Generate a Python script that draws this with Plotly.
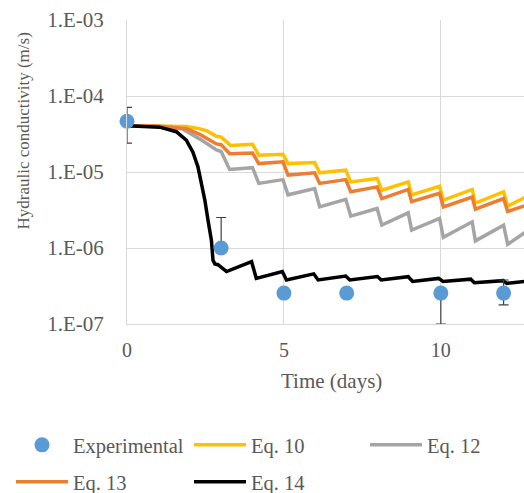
import plotly.graph_objects as go

# ---------------- data ----------------
exp_days = [0, 3, 5, 7, 10, 12]
exp_k = [4.65e-5, 1.0e-6, 2.55e-7, 2.55e-7, 2.55e-7, 2.55e-7]
exp_err_plus = [2.45e-5, 1.52e-6, 0, 0, 0, 1.24e-7]
exp_err_minus = [2.25e-5, 0, 0, 0, 1.55e-7, 0.76e-7]

eq10_days = [0, 1.0, 1.5, 1.9, 2.3, 2.55, 2.85, 3.0, 3.3, 4.0, 4.2, 4.97, 5.13, 5.98, 6.14,
             6.97, 7.13, 7.97, 8.12, 8.96, 9.07, 9.96, 10.08, 11.0, 11.1, 12.0, 12.13, 12.7]
eq10_k = [4.07e-5, 4.07e-5, 4.03e-5, 3.98e-5, 3.72e-5, 3.47e-5, 2.95e-5, 2.88e-5, 2.24e-5,
          2.32e-5, 1.66e-5, 1.71e-5, 1.29e-5, 1.33e-5, 9.77e-6, 1.06e-5, 7.41e-6, 8.22e-6,
          5.75e-6, 7.41e-6, 5.01e-6, 6.50e-6, 4.27e-6, 5.89e-6, 3.89e-6, 5.50e-6, 3.55e-6, 4.68e-6]

eq12_days = [0, 1.0, 1.75, 2.3, 2.85, 3.0, 3.27, 4.0, 4.2, 4.97, 5.13, 5.98, 6.14, 6.97, 7.13,
             7.97, 8.12, 8.96, 9.07, 9.96, 10.08, 11.0, 11.1, 12.0, 12.13, 12.7]
eq12_k = [4.07e-5, 3.98e-5, 3.72e-5, 2.75e-5, 1.95e-5, 1.86e-5, 1.08e-5, 1.14e-5, 7.08e-6,
          7.94e-6, 5.01e-6, 6.07e-6, 3.47e-6, 4.37e-6, 2.63e-6, 3.31e-6, 2.00e-6, 2.90e-6,
          1.72e-6, 2.45e-6, 1.38e-6, 2.21e-6, 1.24e-6, 2.00e-6, 1.12e-6, 1.62e-6]

eq13_days = [0, 1.0, 1.9, 2.3, 2.55, 2.85, 3.0, 3.27, 4.0, 4.2, 4.97, 5.13, 5.98, 6.14, 6.97,
             7.13, 7.97, 8.12, 8.96, 9.07, 9.96, 10.08, 11.0, 11.1, 12.0, 12.13, 12.7]
eq13_k = [4.07e-5, 4.03e-5, 3.72e-5, 3.16e-5, 2.75e-5, 2.34e-5, 2.29e-5, 1.74e-5, 1.78e-5,
          1.29e-5, 1.36e-5, 9.12e-6, 9.77e-6, 7.08e-6, 7.94e-6, 5.50e-6, 6.37e-6, 4.47e-6,
          5.89e-6, 4.07e-6, 5.25e-6, 3.47e-6, 4.68e-6, 3.24e-6, 4.47e-6, 3.02e-6, 3.63e-6]

eq14_days = [0, 1.04, 1.57, 1.89, 2.10, 2.26, 2.37, 2.48, 2.58, 2.69, 2.74, 2.8, 2.9, 3.17,
             3.97, 4.12, 4.95, 5.08, 5.95, 6.09, 6.97, 7.1, 7.98, 8.1, 8.96, 9.1, 9.93, 10.07,
             10.95, 11.07, 11.99, 12.1, 12.7]
eq14_k = [4.07e-5, 3.89e-5, 3.39e-5, 2.63e-5, 1.82e-5, 1.17e-5, 7.08e-6, 4.27e-6, 2.34e-6,
          1.26e-6, 6.92e-7, 6.17e-7, 6.03e-7, 4.90e-7, 6.61e-7, 3.98e-7, 4.90e-7, 3.80e-7,
          4.57e-7, 3.80e-7, 4.27e-7, 3.80e-7, 4.22e-7, 3.80e-7, 4.19e-7, 3.63e-7, 3.98e-7,
          3.63e-7, 3.89e-7, 3.49e-7, 3.72e-7, 3.43e-7, 3.63e-7]

y_tickvals = [1e-7, 1e-6, 1e-5, 1e-4, 1e-3]
y_ticktext = ["1.E-07", "1.E-06", "1.E-05", "1.E-04", "1.E-03"]
x_tickvals = [0, 5, 10]

# ---------------- figure ----------------
FONT = "Liberation Serif, Times New Roman, serif"
TXT = "#595959"
LW = 3.5

fig = go.Figure()
fig.add_trace(go.Scatter(x=eq10_days, y=eq10_k, mode="lines", name="Eq. 10",
                         line=dict(color="#FFC000", width=LW), legend="legend", legendrank=2))
fig.add_trace(go.Scatter(x=eq12_days, y=eq12_k, mode="lines", name="Eq. 12",
                         line=dict(color="#A5A5A5", width=LW), legend="legend3", legendrank=3))
fig.add_trace(go.Scatter(x=eq13_days, y=eq13_k, mode="lines", name="Eq. 13",
                         line=dict(color="#ED7D31", width=LW), legend="legend2", legendrank=4))
fig.add_trace(go.Scatter(x=eq14_days, y=eq14_k, mode="lines", name="Eq. 14",
                         line=dict(color="#000000", width=LW), legend="legend2", legendrank=5))
fig.add_trace(go.Scatter(
    x=exp_days, y=exp_k, mode="markers", name="Experimental",
    marker=dict(color="#5B9BD5", size=15),
    error_y=dict(type="data", array=exp_err_plus, arrayminus=exp_err_minus,
                 color="#404040", thickness=1.2, width=5),
    cliponaxis=False, legend="legend", legendrank=1))

W, H = 524, 493
L, R, T, B = 127, 0, 20, 169
PW = W - L - R
PH = H - T - B

def px_x(p):
    return (p - L) / PW

def px_y(p):
    return (H - B - p) / PH

legend_common = dict(orientation="h", xanchor="left", yanchor="middle",
                     font=dict(family=FONT, size=20.5, color=TXT),
                     itemwidth=52, entrywidth=111, entrywidthmode="pixels",
                     bgcolor="rgba(0,0,0,0)", borderwidth=0, traceorder="normal")

fig.update_layout(
    width=W, height=H,
    margin=dict(l=L, r=R, t=T, b=B, pad=0, autoexpand=False),
    paper_bgcolor="white", plot_bgcolor="white",
    font=dict(family=FONT, size=20, color=TXT),
    showlegend=True,
    legend=dict(x=px_x(11), y=px_y(445), **legend_common),
    legend2=dict(x=px_x(11), y=px_y(482), **legend_common),
    legend3=dict(x=px_x(365), y=px_y(445), **legend_common),
    xaxis=dict(range=[0, 12.65], tickvals=x_tickvals, showgrid=True, gridcolor="#D9D9D9",
               gridwidth=1, zeroline=False, showline=True, linecolor="#D9D9D9", linewidth=1,
               ticks="", tickfont=dict(family=FONT, size=20, color=TXT),
               ticklabelstandoff=8),
    yaxis=dict(type="log", range=[-7, -3], tickvals=y_tickvals, ticktext=y_ticktext,
               showgrid=True, gridcolor="#D9D9D9", gridwidth=1, zeroline=False,
               showline=True, linecolor="#D9D9D9", linewidth=1, ticks="",
               tickfont=dict(family=FONT, size=21, color=TXT), ticklabelstandoff=18),
    annotations=[
        dict(text="Hydraulic conductivity (m/s)", xref="paper", yref="paper",
             x=px_x(23), y=px_y(131.5), xanchor="center", yanchor="middle",
             textangle=-90, showarrow=False, font=dict(family=FONT, size=17, color=TXT)),
        dict(text="Time (days)", xref="paper", yref="paper",
             x=px_x(331), y=px_y(381), xanchor="center", yanchor="middle",
             showarrow=False, font=dict(family=FONT, size=21, color=TXT)),
    ],
)

fig.write_html(
    "out.html",
    config={"displayModeBar": False},
    post_script="document.body.style.margin='0';document.body.style.overflow='hidden';",
)
